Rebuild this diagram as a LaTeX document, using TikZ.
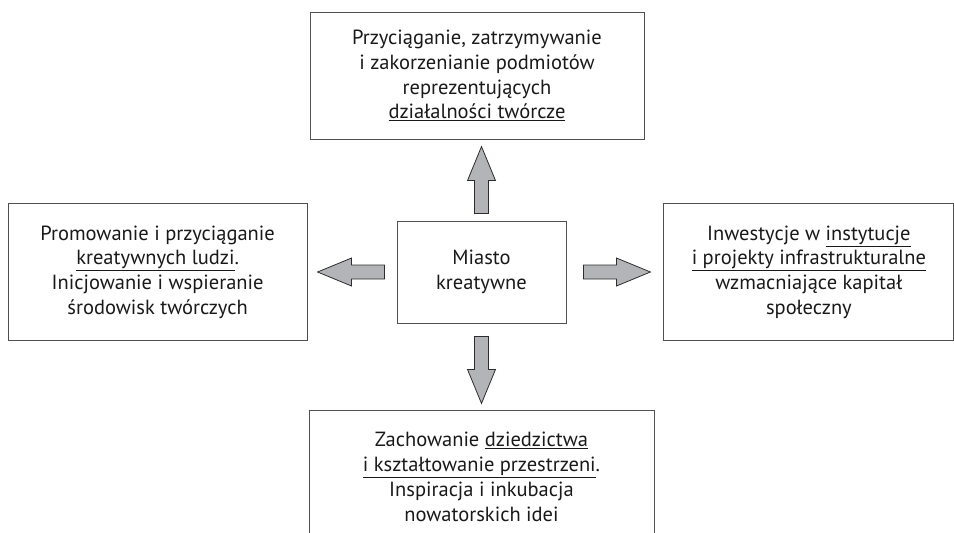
\documentclass[tikz,border=0pt]{standalone}
\usepackage{fontspec}
\setmainfont{PT Sans}
\usetikzlibrary{positioning,calc}
\definecolor{boxline}{RGB}{80,80,80}
\definecolor{arrowfill}{RGB}{178,180,183}
\definecolor{arrowline}{RGB}{45,45,45}
\newcommand{\blockarrow}[2]{%
  \begin{scope}[shift={#1}, rotate=#2]
    \draw[bigarrow] (0,-7) -- (33,-7) -- (33,-14) -- (67,0) -- (33,14) -- (33,7) -- (0,7) -- cycle;
  \end{scope}}

\begin{document}
\begin{tikzpicture}[
  x=1pt, y=-1pt,
  textbox/.style={draw=boxline, line width=0.9pt, align=center, inner sep=0pt, text=black!90, font=\fontsize{20.5}{24.7}\selectfont},
  bigarrow/.style={draw=arrowline, fill=arrowfill, line width=0.8pt, line join=miter}
]
\useasboundingbox (0,0) rectangle (954,533);
\clip (0,0) rectangle (954,533);

\node[textbox, minimum width=169pt, minimum height=102pt] (city) at (481.5,272) {Miasto\\kreatywne};
\node[textbox, minimum width=334pt, minimum height=127pt, above=81pt of city, xshift=-4.5pt] (attract) {Przyciąganie, zatrzymywanie\\i zakorzenianie podmiotów\\reprezentujących\\\underline{działalności twórcze}};
\node[textbox, minimum width=299pt, minimum height=137pt, left=89pt of city] (people) {Promowanie i przyciąganie\\\underline{kreatywnych ludzi}.\\Inicjowanie i wspieranie\\środowisk twórczych};
\node[textbox, minimum width=290pt, minimum height=137pt, right=97pt of city] (invest) {Inwestycje w \underline{instytucje}\\\underline{i projekty infrastrukturalne}\\wzmacniające kapitał\\społeczny};
\node[textbox, minimum width=345pt, minimum height=132pt, below=87pt of city] (heritage) {Zachowanie \underline{dziedzictwa}\\\underline{i kształtowanie przestrzeni}.\\Inspiracja i inkubacja\\nowatorskich idei};

\blockarrow{($(city.north)+(0,-7)$)}{90}
\blockarrow{($(city.east)+(17,0)$)}{0}
\blockarrow{($(city.west)+(-12,0)$)}{180}
\blockarrow{($(city.south)+(0,13)$)}{-90}
\end{tikzpicture}
\end{document}
